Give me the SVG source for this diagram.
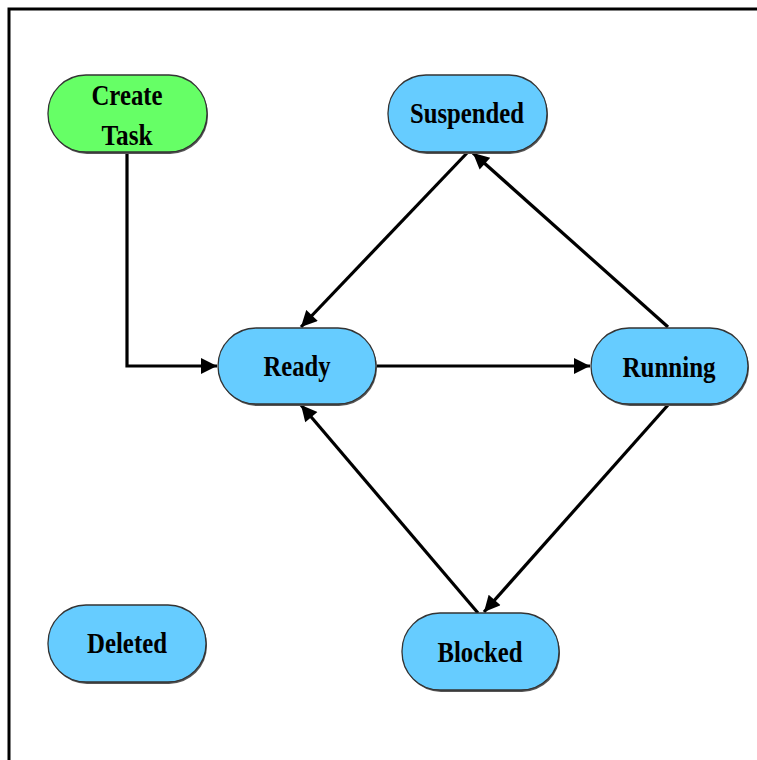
<svg xmlns="http://www.w3.org/2000/svg" width="757" height="760" viewBox="0 0 757 760">
  <defs>
    <marker id="arrow" viewBox="0 0 10 10" refX="10" refY="5" markerWidth="5.5" markerHeight="5" orient="auto" markerUnits="strokeWidth">
      <path d="M0,0 L10,5 L0,10 z" fill="#000"/>
    </marker>
  </defs>
  <style>
    .node { stroke: #333; stroke-width: 1.3; }
    .shadow { fill: #555; }
    .blue { fill: #66ccff; }
    .green { fill: #66ff66; }
    .label { font-family: "Liberation Serif", "Times New Roman", serif; font-weight: bold; font-size: 29px; fill: #000; text-anchor: middle; }
    .edge { stroke: #000; stroke-width: 3.2; fill: none; marker-end: url(#arrow); }
  </style>

  <rect x="0" y="0" width="757" height="760" fill="#fff"/>
  <!-- outer frame -->
  <path d="M9,760 L9,9 L757,9" fill="none" stroke="#000" stroke-width="3"/>

  <g id="connectors">
    <path class="edge" d="M127,152 L127,366 L217,366"/>
    <path class="edge" d="M377,366 L590,366"/>
    <path class="edge" d="M668,327 L473,153"/>
    <path class="edge" d="M467,153 L301,327"/>
    <path class="edge" d="M668,405 L484,612"/>
    <path class="edge" d="M478,613 L301,405"/>
  </g>

  <g id="create-task">
    <rect class="shadow" x="49" y="77" width="159" height="77" rx="38"/>
    <rect class="node green" x="48" y="75" width="159" height="77" rx="38"/>
    <text class="label" x="127" y="105" textLength="71" lengthAdjust="spacingAndGlyphs">Create</text>
    <text class="label" x="127" y="145" textLength="51" lengthAdjust="spacingAndGlyphs">Task</text>
  </g>

  <g id="suspended">
    <rect class="shadow" x="389" y="77" width="159" height="77" rx="38"/>
    <rect class="node blue" x="388" y="75" width="159" height="77" rx="38"/>
    <text class="label" x="467" y="123" textLength="114" lengthAdjust="spacingAndGlyphs">Suspended</text>
  </g>

  <g id="ready">
    <rect class="shadow" x="219" y="330" width="158" height="76" rx="38"/>
    <rect class="node blue" x="218" y="328" width="158" height="76" rx="38"/>
    <text class="label" x="297" y="376" textLength="67" lengthAdjust="spacingAndGlyphs">Ready</text>
  </g>

  <g id="running">
    <rect class="shadow" x="592" y="330" width="157" height="76" rx="38"/>
    <rect class="node blue" x="591" y="328" width="157" height="76" rx="38"/>
    <text class="label" x="669" y="377" textLength="93" lengthAdjust="spacingAndGlyphs">Running</text>
  </g>

  <g id="blocked">
    <rect class="shadow" x="403" y="615" width="157" height="77" rx="38"/>
    <rect class="node blue" x="402" y="613" width="157" height="77" rx="38"/>
    <text class="label" x="480" y="662" textLength="85" lengthAdjust="spacingAndGlyphs">Blocked</text>
  </g>

  <g id="deleted">
    <rect class="shadow" x="49" y="607" width="158" height="77" rx="38"/>
    <rect class="node blue" x="48" y="605" width="158" height="77" rx="38"/>
    <text class="label" x="127" y="653" textLength="80" lengthAdjust="spacingAndGlyphs">Deleted</text>
  </g>
</svg>
